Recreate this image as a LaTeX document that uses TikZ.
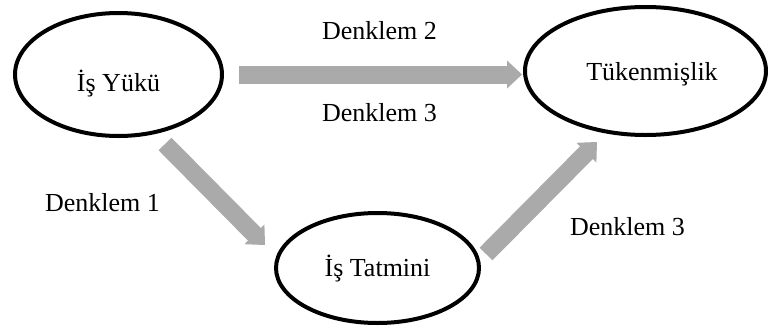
\documentclass[tikz,border=0pt]{standalone}
\usepackage{fontspec}
\setmainfont{Liberation Serif}
\usetikzlibrary{shapes.geometric,calc}
\definecolor{arrowgray}{RGB}{170,170,170}
\tikzset{
  oval/.style={draw=black, line width=4pt, ellipse, inner sep=0pt},
  lbl/.style={anchor=base, inner sep=0pt, font=\fontsize{26pt}{30pt}\selectfont},
}
\newcommand\blockarrow[2]{%
  \draw[arrowgray, line width=18pt, shorten >=14pt] (#1) -- (#2);
  \fill[arrowgray] (#2) -- ($(#2)!15pt!(#1)!14pt!90:(#2)$) -- ($(#2)!15pt!(#1)!14pt!-90:(#2)$) -- cycle;}
\begin{document}
\begin{tikzpicture}[x=1pt,y=-1pt]
\useasboundingbox (0,0) rectangle (771,327);
% ellipses
\node[oval, minimum width=207pt, minimum height=123pt] (yuk) at (118.5,74.5) {};
\node[oval, minimum width=241pt, minimum height=128pt] (tuk) at (645.5,71) {};
\node[oval, minimum width=203pt, minimum height=110pt] (tat) at (377.5,268) {};
% node texts
\node[lbl] (tyuk) at (118.5,91.7) {İş Yükü};
\node[lbl] (ttuk) at (652,80) {Tükenmişlik};
\node[lbl] (ttat) at (377.5,276.7) {İş Tatmini};
% arrow end points
\coordinate (a1s) at (239,74.5);
\coordinate (a1e) at (522,74.5);
\coordinate (a2s) at (165,144);
\coordinate (a2e) at (265,245);
\coordinate (a3s) at (486,254);
\coordinate (a3e) at (597,142);
\blockarrow{a1s}{a1e}
\blockarrow{a2s}{a2e}
\blockarrow{a3s}{a3e}
% labels
\node[lbl] (d2) at (379.5,39.3) {Denklem 2};
\node[lbl] (d3a) at (379.5,121.7) {Denklem 3};
\node[lbl] (d1) at (102.5,211.7) {Denklem 1};
\node[lbl] (d3b) at (627.5,235.5) {Denklem 3};
\end{tikzpicture}
\end{document}
